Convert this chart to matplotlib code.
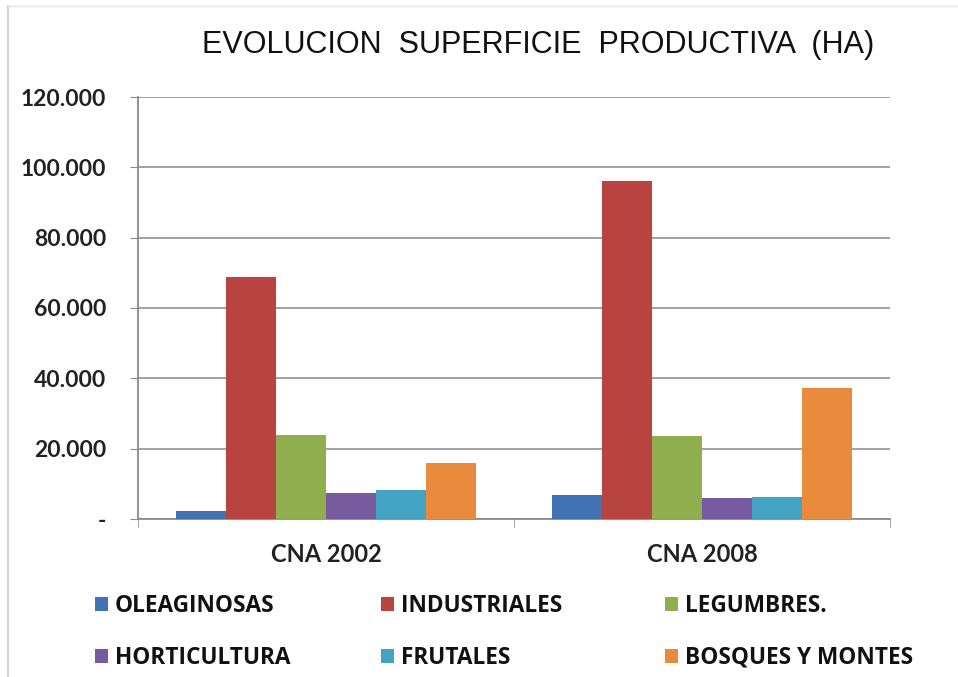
import matplotlib
matplotlib.use("Agg")
import matplotlib.pyplot as plt
from matplotlib.patches import Patch
from matplotlib.lines import Line2D
import numpy as np

categories = ["CNA 2002", "CNA 2008"]
series_names = ["OLEAGINOSAS", "INDUSTRIALES", "LEGUMBRES.", "HORTICULTURA", "FRUTALES", "BOSQUES Y MONTES"]
oleaginosas = [2400, 6900]
industriales = [68800, 96100]
legumbres = [24000, 23700]
horticultura = [7300, 5900]
frutales = [8200, 6300]
bosques = [16000, 37200]
y_ticks = [0, 20000, 40000, 60000, 80000, 100000, 120000]
y_tick_labels = ["-", "20.000", "40.000", "60.000", "80.000", "100.000", "120.000"]
colors = ["#4173b4", "#b8433f", "#8fae4e", "#775b9e", "#42a4c2", "#ea8a3c"]

series = [oleaginosas, industriales, legumbres, horticultura, frutales, bosques]

fig = plt.figure(figsize=(9.58, 6.77), dpi=100)
ax = fig.add_axes([138/958, 1-519/677, (890-138)/958, (519-97)/677])

x = np.arange(len(categories))
w = 0.133
for i, (vals, c) in enumerate(zip(series, colors)):
    ax.bar(x + (i - 2.5) * w, vals, width=w, color=c, zorder=3, label=series_names[i])

ax.set_xlim(-0.5, 1.5)
ax.set_ylim(0, 120000)
ax.set_yticks(y_ticks)
ax.set_yticklabels(y_tick_labels, fontfamily="Lato", fontweight="bold", fontsize=16.5, color="#222222")
ax.set_xticks(x)
ax.set_xticklabels(categories, fontfamily="Lato", fontweight="bold", fontsize=17, color="#222222")
ax.set_xticks([-0.5, 0.5, 1.5], minor=True)
ax.tick_params(axis="x", which="major", length=0, pad=17)
ax.tick_params(axis="x", which="minor", length=6, color="#8a8a8a", direction="out")
ax.tick_params(axis="y", length=6, color="#8a8a8a", pad=17)
ax.grid(axis="y", color="#9a9a9a", linewidth=1.3, zorder=0)
for s in ["top", "right"]:
    ax.spines[s].set_visible(False)
for s in ["left", "bottom"]:
    ax.spines[s].set_color("#8a8a8a")
    ax.spines[s].set_linewidth(1.3)

fig.text(538/958, 1-45/677, "EVOLUCION  SUPERFICIE  PRODUCTIVA  (HA)", ha="center", va="center",
         fontfamily="Liberation Sans", fontsize=22.0, color="#111111")

# legend: three columns of two entries each, evenly spaced like the original
columns = [[0, 3], [1, 4], [2, 5]]
col_x = [95, 381, 665]
for cx, idxs in zip(col_x, columns):
    handles = [Patch(facecolor=colors[i]) for i in idxs]
    labels = [series_names[i] for i in idxs]
    leg = fig.legend(handles, labels, loc="center left", bbox_to_anchor=(cx/958, 1-632/677),
                     frameon=False, prop={"family": "Open Sans", "weight": "bold", "size": 16.3},
                     handlelength=0.58, handleheight=0.58, handletextpad=0.3,
                     labelspacing=1.22, borderaxespad=0, borderpad=0)
    for t in leg.get_texts():
        t.set_color("#111111")

fig.add_artist(Line2D([8/958, 8/958], [0, 1-6/677], transform=fig.transFigure, color="#d4d4d4", lw=1.5))
fig.add_artist(Line2D([8/958, 1], [1-6/677, 1-6/677], transform=fig.transFigure, color="#e4e4e4", lw=1.0))

fig.savefig("out.png", dpi=100, facecolor="white")
